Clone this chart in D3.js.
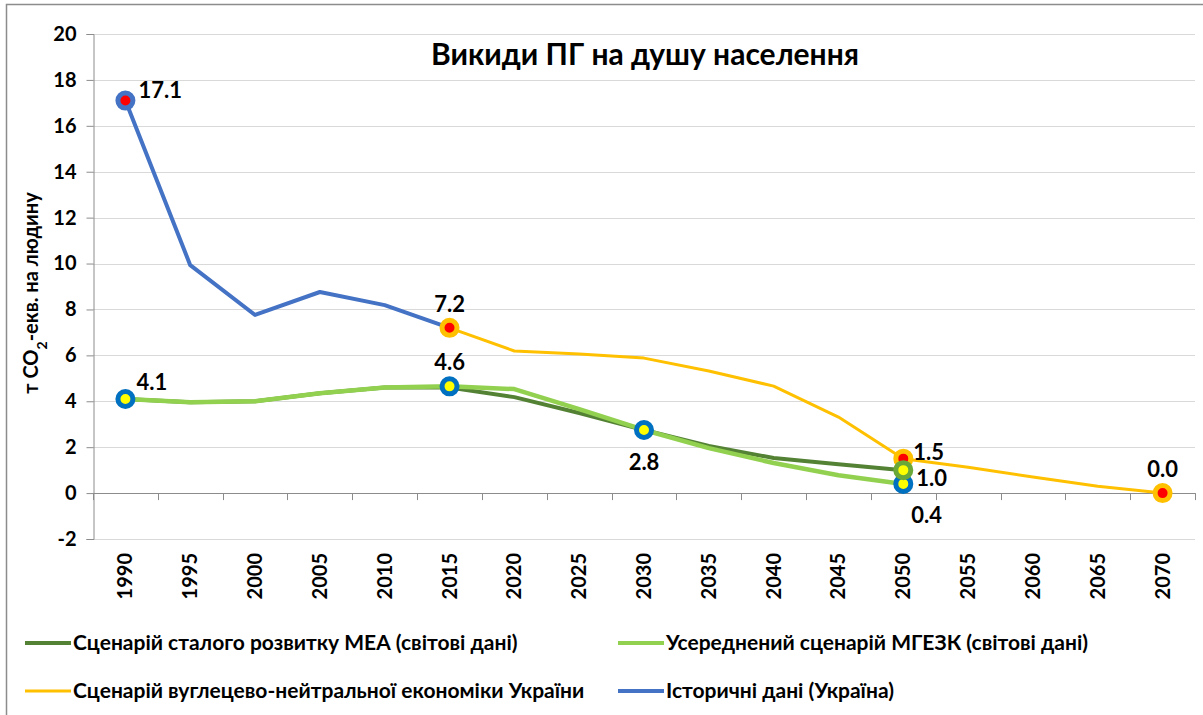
<!DOCTYPE html>
<html><head><meta charset="utf-8">
<script src="https://cdn.jsdelivr.net/npm/d3@7"></script>
<style>
body{margin:0;background:#fff;}
text{font-family:Lato, "Liberation Sans", sans-serif;font-weight:bold;fill:#000;}
</style></head>
<body><svg id="c" width="1203" height="715"></svg>
<script>
const years = [1990,1995,2000,2005,2010,2015,2020,2025,2030,2035,2040,2045,2050,2055,2060,2065,2070];
const yTicks = [-2,0,2,4,6,8,10,12,14,16,18,20];
const historical = [[1990,17.1],[1995,9.93],[2000,7.76],[2005,8.76],[2010,8.19],[2015,7.2]];
const ukraineNeutral = [[2015,7.2],[2020,6.19],[2025,6.06],[2030,5.88],[2035,5.32],[2040,4.66],[2045,3.31],[2050,1.5],[2055,1.13],[2060,0.7],[2065,0.3],[2070,0.0]];
const ieaSDS = [[1990,4.1],[1995,3.96],[2000,4.0],[2005,4.35],[2010,4.6],[2015,4.6],[2020,4.18],[2025,3.49],[2030,2.75],[2035,2.05],[2040,1.53],[2045,1.26],[2050,1.0]];
const ipccAvg = [[1990,4.1],[1995,3.96],[2000,4.0],[2005,4.35],[2010,4.6],[2015,4.65],[2020,4.53],[2025,3.66],[2030,2.75],[2035,1.96],[2040,1.31],[2045,0.78],[2050,0.4]];
const seriesNames = ["Сценарій сталого розвитку МЕА (світові дані)","Усереднений сценарій МГЕЗК (світові дані)","Сценарій вуглецево-нейтральної економіки України","Історичні дані (Україна)"];
// highlighted points: [year, value, label, style]
const keyPoints = [
  [1990,17.1,"17.1","hist"],[2015,7.2,"7.2","ua"],[2050,1.5,"1.5","ua"],[2070,0.0,"0.0","ua"],
  [1990,4.1,"4.1","world"],[2015,4.65,"4.6","world"],[2030,2.75,"2.8","world"],[2050,0.4,"0.4","world"],[2050,1.0,"1.0","iea"]
];
const title = "Викиди ПГ на душу населення";

const svg = d3.select("#c");
const W=1203,H=715;
const m={l:93,r:1195,t:34,b:539};
const x = d3.scaleBand().domain(years).range([m.l,m.r]);
const xc = d => x(d)+x.bandwidth()/2;
const y = d3.scaleLinear().domain([-2,20]).range([m.b,m.t]);

svg.append("rect").attr("x",6.5).attr("y",4.5).attr("width",W+10).attr("height",H+10)
  .attr("fill","#fff").attr("stroke","#8c8c8c").attr("stroke-width",1.5);

// gridlines
svg.append("g").selectAll("line").data(yTicks).join("line")
  .attr("x1",m.l).attr("x2",m.r).attr("y1",d=>Math.round(y(d))+0.5).attr("y2",d=>Math.round(y(d))+0.5)
  .attr("stroke","#d9d9d9").attr("stroke-width",1.2);

// y axis
const ya = svg.append("g").attr("transform",`translate(${m.l+0.5},0)`)
  .call(d3.axisLeft(y).tickValues(yTicks).tickSize(7).tickPadding(10).tickFormat(d=>String(d)));
ya.select(".domain").attr("stroke","#8c8c8c");
ya.selectAll(".tick line").attr("stroke","#8c8c8c");
ya.selectAll("text").style("font-size","20px").style("font-family","Lato, sans-serif").style("font-weight","bold").attr("fill","#000");

// x axis at y=0
const xa = svg.append("g").attr("transform",`translate(0,${Math.round(y(0))+0.5})`)
  .call(d3.axisBottom(x).tickSize(0).tickFormat(""));
xa.select(".domain").attr("stroke","#8c8c8c").attr("d",`M${m.l},0H${m.r}`);
svg.append("g").selectAll("line").data(d3.range(years.length+1)).join("line")
  .attr("x1",i=>Math.round(m.l+i*x.step())+0.5).attr("x2",i=>Math.round(m.l+i*x.step())+0.5)
  .attr("y1",y(0)).attr("y2",y(0)+7).attr("stroke","#8c8c8c");
// x labels
svg.append("g").selectAll("text").data(years).join("text")
  .attr("transform",d=>`translate(${xc(d)+7},553) rotate(-90)`)
  .attr("text-anchor","end").style("font-size","20px").text(d=>d);

// lines
const line = d3.line().x(d=>xc(d[0])).y(d=>y(d[1]));
const lineData = [
  [ieaSDS,"#548235",4],[ipccAvg,"#92d050",4.5],[ukraineNeutral,"#ffc000",3],[historical,"#4472c4",4]
];
svg.append("g").selectAll("path").data(lineData).join("path")
  .attr("d",d=>line(d[0])).attr("fill","none").attr("stroke",d=>d[1]).attr("stroke-width",d=>d[2])
  .attr("stroke-linejoin","round");

// markers
const styles = {hist:["#4472c4","#ff0000"],ua:["#ffc000","#ff0000"],world:["#0070c0","#ffff00"],iea:["#6aa83a","#ffff00"]};
const mk = svg.append("g");
keyPoints.forEach(p=>{
  const s=styles[p[3]];
  mk.append("circle").attr("cx",xc(p[0])).attr("cy",y(p[1])).attr("r",7.5)
    .attr("fill",s[1]).attr("stroke",s[0]).attr("stroke-width",5);
});
// labels
const lblPos = {"17.1":[13,-10,"start"],"7.2":[0,-24,"middle"],"4.6":[0,-24,"middle"],"4.1":[11,-17,"start"],
  "2.8":[0,32,"middle"],"1.5":[10,-6,"start"],"1.0":[13,8,"start"],"0.4":[8,31,"start"],"0.0":[0,-24,"middle"]};
svg.append("g").selectAll("text").data(keyPoints).join("text")
  .attr("x",d=>xc(d[0])+lblPos[d[2]][0]).attr("y",d=>y(d[1])+lblPos[d[2]][1])
  .attr("text-anchor",d=>lblPos[d[2]][2]).attr("dy","0.35em").style("font-size","22px").text(d=>d[2]);

// title
svg.append("text").attr("x",645).attr("y",65).attr("text-anchor","middle").style("font-size","30px").text(title);

// y label
const yl = svg.append("text").attr("transform","translate(38,293) rotate(-90)").attr("text-anchor","middle").style("font-size","20px");
yl.append("tspan").text("т CO");
yl.append("tspan").attr("baseline-shift","sub").style("font-size","14px").text("2");
yl.append("tspan").text("-екв. на людину");

// legend
const legend = [[seriesNames[0],"#548235",25,643],[seriesNames[1],"#92d050",618,643],[seriesNames[2],"#ffc000",25,691],[seriesNames[3],"#4472c4",618,691]];
const lg = svg.append("g");
legend.forEach(l=>{
  lg.append("line").attr("x1",l[2]).attr("x2",l[2]+46).attr("y1",l[3]).attr("y2",l[3]).attr("stroke",l[1]).attr("stroke-width",l[1]==="#ffc000"?3:4);
  lg.append("text").attr("x",l[2]+48).attr("y",l[3]).attr("dy","0.35em").style("font-size","21px").text(l[0]);
});
</script></body></html>
